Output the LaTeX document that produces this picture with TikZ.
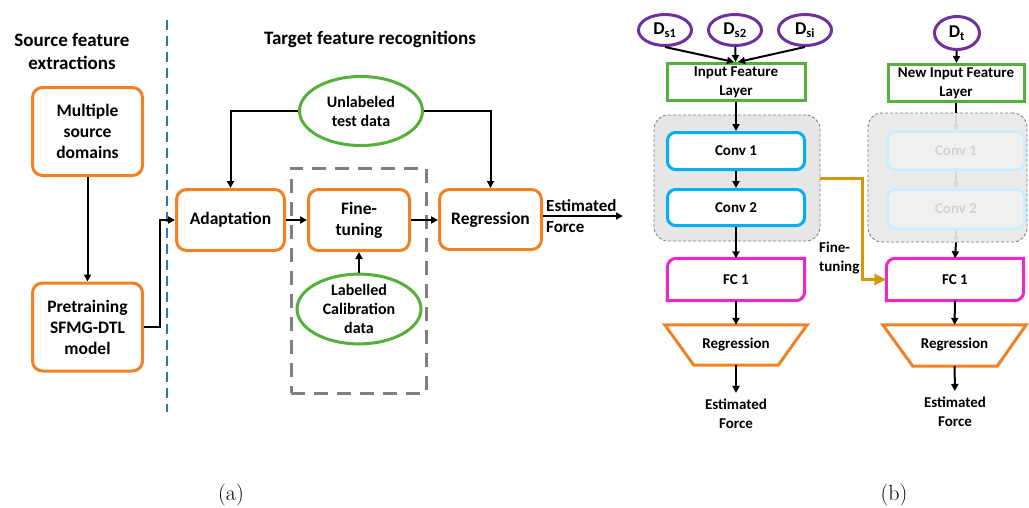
\documentclass[tikz,border=0pt]{standalone}
\usepackage{fontspec}
\setsansfont{Carlito}
\usetikzlibrary{shapes.geometric,arrows.meta}

\definecolor{boxorange}{RGB}{242,128,36}
\definecolor{ellgreen}{RGB}{84,176,58}
\definecolor{sepblue}{RGB}{46,117,182}
\definecolor{dashgray}{RGB}{128,128,128}
\definecolor{layercyan}{RGB}{0,176,240}
\definecolor{fcmagenta}{RGB}{238,40,200}
\definecolor{dompurple}{RGB}{112,48,160}
\definecolor{tunegold}{RGB}{212,150,10}
\definecolor{panelgray}{RGB}{230,230,230}

\newcommand{\fs}[2]{\fontsize{#1}{#2}\selectfont}

\tikzset{
  heading/.style={font=\sffamily\bfseries\fs{19}{23}, align=center, inner sep=0pt},
  procbox/.style={draw=boxorange, line width=3pt, rounded corners=10pt, fill=white,
    align=center, inner sep=0pt, font=\sffamily\bfseries\fs{17.5}{21}},
  databubble/.style={ellipse, draw=ellgreen, line width=3pt, fill=white,
    align=center, inner sep=0pt, font=\sffamily\bfseries\fs{16}{19}},
  flow/.style={-{Triangle[length=7pt,width=7pt]}, line width=2pt},
  faintflow/.style={-{Triangle[length=6pt,width=6pt]}, line width=1.2pt, draw=gray!30},
  tuneflow/.style={-{Triangle[length=12pt,width=11pt]}, line width=3pt, draw=tunegold},
  dombubble/.style={ellipse, draw=dompurple, line width=3pt, fill=white, inner sep=0pt,
    font=\sffamily\bfseries\fs{18}{20}},
  inputbox/.style={draw=ellgreen, line width=3pt, fill=white, align=center, inner sep=0pt,
    font=\sffamily\bfseries\fs{15}{19}},
  panel/.style={draw=dashgray, dash pattern=on 3pt off 2pt, line width=0.9pt,
    fill=panelgray, rounded corners=14pt, inner sep=0pt},
  layerbox/.style={draw=layercyan, line width=3pt, rounded corners=8pt, fill=white,
    inner sep=0pt, font=\sffamily\bfseries\fs{15}{19}},
  fadedbox/.style={draw=layercyan!22, line width=2.5pt, rounded corners=8pt,
    fill=panelgray!60, inner sep=0pt, text=gray!35, font=\sffamily\bfseries\fs{15}{19}},
  fcnode/.style={inner sep=0pt, minimum width=137pt, minimum height=42pt,
    font=\sffamily\bfseries\fs{15}{19}},
  fcline/.style={draw=fcmagenta, line width=3pt, rounded corners=9pt, line cap=rect},
  trapnode/.style={inner sep=0pt, minimum width=142pt, minimum height=40pt,
    font=\sffamily\bfseries\fs{15}{19}},
  trapline/.style={draw=boxorange, line width=3pt, line join=miter},
  estlabel/.style={font=\sffamily\bfseries\fs{15}{19}, align=center, inner sep=6pt},
  caption/.style={font=\rmfamily\fs{22}{24}, inner sep=0pt}
}

\begin{document}
\begin{tikzpicture}[x=1pt,y=-1pt]
\useasboundingbox (0,0) rectangle (1029,507);

% ---------------- (a) overall transfer pipeline ----------------
\node[heading] (srcT) at (72,51) {Source feature\\extractions};
\node[heading] (tgtT) at (370,39) {Target feature recognitions};

% separator between the two stages
\draw[sepblue, line width=2pt, dash pattern=on 10pt off 6pt] (167,20) -- (167,412);

% fine-tuning stage frame
\node[draw=dashgray, line width=3pt, dash pattern=on 14pt off 9pt,
      minimum width=135pt, minimum height=225pt, inner sep=0pt] (ftframe) at (358.5,280.5) {};

\node[procbox, minimum width=110pt, minimum height=88pt] (msd) at (87.5,131.5) {Multiple\\source\\domains};
\node[procbox, minimum width=110pt, minimum height=88pt] (pre) at (87.5,327) {Pretraining\\SFMG-DTL\\model};
\node[procbox, minimum width=108pt, minimum height=61pt] (adapt) at (230.5,220) {Adaptation};
\node[procbox, minimum width=101pt, minimum height=61pt] (fine) at (359,220) {Fine-\\tuning};
\node[procbox, minimum width=102pt, minimum height=60pt] (reg) at (490.5,219.5) {Regression};
\node[databubble, minimum width=123pt, minimum height=69pt] (unl) at (361,111) {Unlabeled\\test data};
\node[databubble, minimum width=124pt, minimum height=69pt] (lab) at (359,309) {Labelled\\Calibration\\data};

\coordinate (estA) at (623,216);
\node[anchor=west, align=left, inner sep=0pt, font=\sffamily\bfseries\fs{17}{21}] (estAtxt) at (546,216) {Estimated\\Force};

\draw[flow] (msd) -- (pre);
\draw[flow] (pre.east) -- ++(16,0) |- (adapt.west);
\draw[flow] (unl.west) -| (adapt.north);
\draw[flow] (unl.east) -| (reg.north);
\draw[flow] (adapt) -- (fine);
\draw[flow] (fine.east) -- (fine.east -| reg.west);
\draw[flow] (lab) -- (fine);
\draw[flow] (reg.east |- estA) -- (estA);

% ---------------- (b) source network ----------------
\node[panel, minimum width=166pt, minimum height=126pt] (pa) at (737,178) {};

\node[dombubble, minimum width=53pt, minimum height=31pt] (ds1) at (665,30) {D\textsubscript{s1}};
\node[dombubble, minimum width=53pt, minimum height=31pt] (ds2) at (735,30) {D\textsubscript{s2}};
\node[dombubble, minimum width=53pt, minimum height=31pt] (dsi) at (805,30) {D\textsubscript{si}};
\node[inputbox, minimum width=138pt, minimum height=37pt] (inl) at (736,82) {Input Feature\\Layer};
\node[layerbox, minimum width=137pt, minimum height=37pt] (c1) at (736,151) {Conv 1};
\node[layerbox, minimum width=137pt, minimum height=36pt] (c2) at (736,207.5) {Conv 2};

\node[fcnode] (fc1) at (736,279.5) {FC 1};
\draw[fcline] (fc1.south west) -- (fc1.north west) -- (fc1.north east);
\draw[fcline] (fc1.north east) -- (fc1.south east) -- (fc1.south west);

\node[trapnode] (tr1) at (736,345) {Regression};
\draw[trapline] (tr1.north west) -- (tr1.north east) -- ([xshift=-29pt]tr1.south east)
  -- ([xshift=29pt]tr1.south west) -- cycle;

\node[estlabel] (est1) at (736,414) {Estimated\\Force};

\draw[flow] (ds1.south) -- ([xshift=-2pt]inl.north);
\draw[flow] (ds2) -- (inl);
\draw[flow] (dsi.south) -- ([xshift=2pt]inl.north);
\draw[flow] (inl) -- (c1);
\draw[flow] (c1) -- (c2);
\draw[flow] (c2) -- (fc1);
\draw[flow] (fc1) -- (tr1);
\draw[flow] (tr1) -- (est1);

% ---------------- (b) target network ----------------
\node[panel, minimum width=159pt, minimum height=129pt, fill=panelgray!85] (pb) at (947.5,177.5) {};

\node[dombubble, minimum width=45pt, minimum height=33pt] (dt) at (957,33) {D\textsubscript{t}};
\node[inputbox, minimum width=136pt, minimum height=37pt] (ninl) at (956,83) {New Input Feature\\Layer};
\node[fadedbox, minimum width=137pt, minimum height=38pt] (f1) at (956,150.5) {Conv 1};
\node[fadedbox, minimum width=137pt, minimum height=39pt] (f2) at (956,209) {Conv 2};

\node[fcnode] (fc2) at (955,279.5) {FC 1};
\draw[fcline] (fc2.south west) -- (fc2.north west) -- (fc2.north east);
\draw[fcline] (fc2.north east) -- (fc2.south east) -- (fc2.south west);

\node[trapnode, minimum width=143pt, minimum height=41pt] (tr2) at (954.5,345.5) {\raisebox{5pt}{Regression}};
\draw[trapline] (tr2.north west) -- (tr2.north east) -- ([xshift=-29pt]tr2.south east)
  -- ([xshift=30pt]tr2.south west) -- cycle;

\node[estlabel] (est2) at (955,412) {Estimated\\Force};

\draw[flow] (dt) -- (ninl);
\draw[line width=2pt] (ninl.south) -- (ninl.south |- pb.north);
\draw[faintflow] (ninl.south |- pb.north) -- (f1.north);
\draw[faintflow] (f1) -- (f2);
\draw[faintflow] (f2.south) -- (f2.south |- pb.south);
\draw[flow] (f2.south |- pb.south) -- (fc2.north);
\draw[flow] (fc2) -- (tr2);
\draw[flow] (tr2) -- (est2);

% transfer of the convolutional layers
\coordinate (tuneturn) at (862,0);
\draw[tuneflow] (pa.east) -- (pa.east -| tuneturn) |- (fc2.west);
\node[anchor=west, align=left, inner sep=0pt, font=\sffamily\bfseries\fs{15}{19}] (tunelbl) at (819,258) {Fine-\\tuning};

% panel captions
\node[caption] (capa) at (231,495) {(a)};
\node[caption] (capb) at (894,495) {(b)};
\end{tikzpicture}
\end{document}
